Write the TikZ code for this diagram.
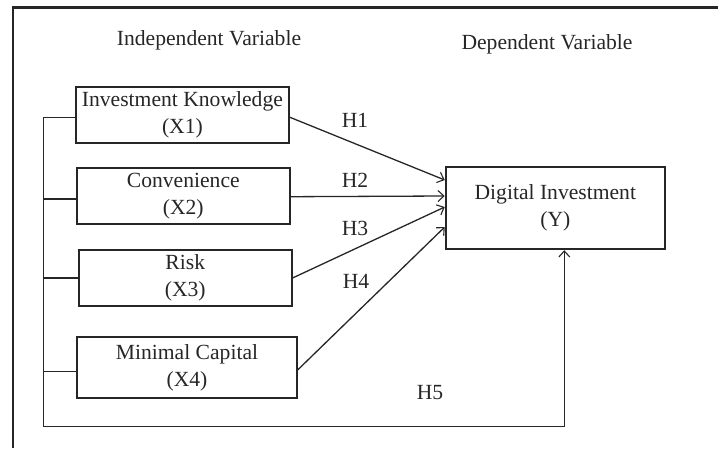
\documentclass[tikz,border=0pt]{standalone}
\usepackage{fontspec}
\setmainfont{Liberation Serif}
\usetikzlibrary{arrows.meta,calc}
\definecolor{ink}{HTML}{262626}
\begin{document}
\begin{tikzpicture}[x=1pt,y=-1pt,
  every node/.style={font=\fontsize{21.6}{26.7}\selectfont, text=ink},
  box/.style={draw=ink, line width=1.8pt, rectangle, inner sep=0pt, align=center},
  conn/.style={draw=ink, line width=1.3pt},
  arr/.style={conn, -{Straight Barb[length=6pt,width=11pt,line width=1.1pt]}},
  frame/.style={draw=ink, line width=2.6pt}]
\useasboundingbox (0,0) rectangle (718,448);
% outer frame (partly visible)
\draw[frame] (13,448) -- (13,7.5) -- (718,7.5);
% titles
\node (tind) at (209,40) {Independent Variable};
\node (tdep) at (547,44) {Dependent Variable};
% boxes
\node[box, minimum width=213.3pt, minimum height=56pt] (x1) at (182.4,114.7) {Investment Knowledge\\(X1)};
\node[box, minimum width=213.3pt, minimum height=56pt] (x2) at (183.3,196) {Convenience\\(X2)};
\node[box, minimum width=212.7pt, minimum height=56pt] (x3) at (185.3,278) {Risk\\(X3)};
\node[box, minimum width=219.4pt, minimum height=61.6pt] (x4) at (187,367.5) {Minimal Capital\\(X4)};
\node[box, minimum width=219.3pt, minimum height=82.6pt] (y) at (555.3,208) {Digital Investment\\(Y)};
% bus
\coordinate (bl) at (43.3,426.7);
\draw[arr] ([yshift=-2.6pt]x1.west) -| (bl) -| ([xshift=9pt]y.south);
\draw[conn] ([yshift=-3pt]x2.west) -- ([yshift=-3pt]x2.west -| bl);
\draw[conn] (x3.west) -- (x3.west -| bl);
\draw[conn] ([yshift=-4pt]x4.west) -- ([yshift=-4pt]x4.west -| bl);
% hypotheses arrows
\draw[arr] ([yshift=-2.6pt]x1.east) -- ([yshift=28pt]y.west);
\draw[arr] ([yshift=-0.7pt]x2.east) -- ([yshift=12pt]y.west);
\draw[arr] (x3.east) -- ([yshift=1pt]y.west);
\draw[arr] ([yshift=-2.5pt]x4.east) -- ([yshift=-19pt]y.west);
% labels
\node (h1) at (355,120.7) {H1};
\node (h2) at (355,180) {H2};
\node (h3) at (355,228.3) {H3};
\node (h4) at (356,281.7) {H4};
\node (h5) at (430,393) {H5};
\end{tikzpicture}
\end{document}
